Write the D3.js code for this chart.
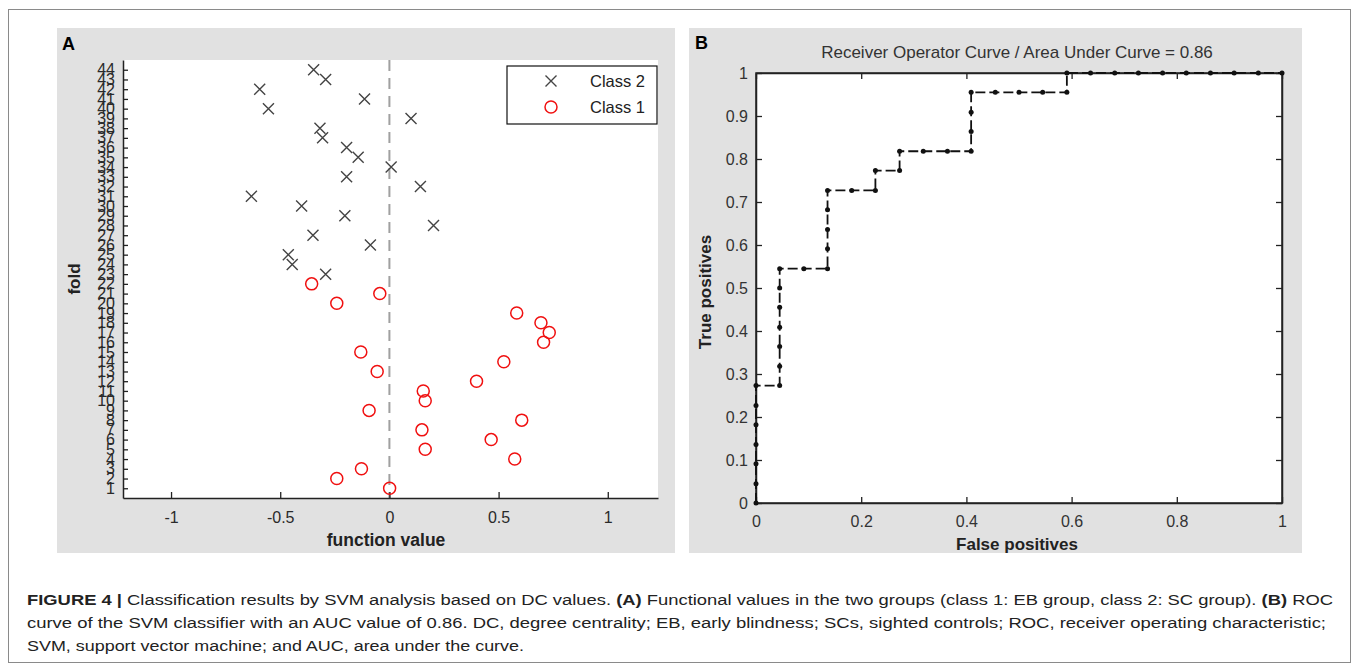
<!DOCTYPE html>
<html>
<head>
<meta charset="utf-8">
<script src="https://cdn.jsdelivr.net/npm/d3@7"></script>
<style>
  body { margin: 0; background: #fff; }
  svg { display: block; font-family: "Liberation Sans", Arial, sans-serif; }
</style>
</head>
<body>
<div id="chart"></div>
<script>
// panel A: SVM function value per fold
var class2Fold = [44, 43, 42, 41, 40, 39, 38, 37, 36, 35, 34, 33, 32, 31, 30, 29, 28, 27, 26, 25, 24, 23];
var class2Value = [-0.347, -0.292, -0.594, -0.114, -0.554, 0.099, -0.318, -0.306, -0.196, -0.143, 0.008,
                   -0.196, 0.142, -0.632, -0.402, -0.204, 0.202, -0.350, -0.087, -0.463, -0.445, -0.292];
var class1Fold = [22, 21, 20, 19, 18, 17, 16, 15, 14, 13, 12, 11, 10, 9, 8, 7, 6, 5, 4, 3, 2, 1];
var class1Value = [-0.356, -0.044, -0.241, 0.583, 0.694, 0.732, 0.706, -0.131, 0.524, -0.056, 0.399,
                   0.155, 0.164, -0.093, 0.606, 0.149, 0.466, 0.164, 0.574, -0.128, -0.241, 0.001];
var foldTicks = d3.range(1, 45);
var funcTicks = [-1, -0.5, 0, 0.5, 1];

// panel B: ROC curve
var rocFpr = [0, 0, 0, 0, 0, 0, 0, 0.045, 0.045, 0.045, 0.045, 0.045, 0.045, 0.045, 0.091, 0.136, 0.136,
              0.136, 0.136, 0.136, 0.182, 0.227, 0.227, 0.273, 0.273, 0.318, 0.364, 0.409, 0.409, 0.409,
              0.409, 0.455, 0.5, 0.545, 0.591, 0.591, 0.636, 0.682, 0.727, 0.773, 0.818, 0.864, 0.909, 0.955, 1];
var rocTpr = [0, 0.045, 0.091, 0.136, 0.182, 0.227, 0.273, 0.273, 0.318, 0.364, 0.409, 0.455, 0.5, 0.545,
              0.545, 0.545, 0.591, 0.636, 0.682, 0.727, 0.727, 0.727, 0.773, 0.773, 0.818, 0.818, 0.818,
              0.818, 0.864, 0.909, 0.955, 0.955, 0.955, 0.955, 0.955, 1, 1, 1, 1, 1, 1, 1, 1, 1, 1];
var rocTicks = [0, 0.2, 0.4, 0.6, 0.8, 1];
var tprTicks = [0, 0.1, 0.2, 0.3, 0.4, 0.5, 0.6, 0.7, 0.8, 0.9, 1];

var svg = d3.select("#chart").append("svg").attr("width", 1358).attr("height", 669);

svg.append("rect").attr("x", 8.5).attr("y", 9.5).attr("width", 1342).attr("height", 653)
  .attr("fill", "#fff").attr("stroke", "#8a8a8a");

// gray figure backgrounds
svg.append("rect").attr("x", 57).attr("y", 28).attr("width", 618).attr("height", 525).attr("fill", "#e1e1e1");
svg.append("rect").attr("x", 689).attr("y", 28).attr("width", 613).attr("height", 525).attr("fill", "#e1e1e1");

svg.append("text").attr("x", 62).attr("y", 50).attr("font-size", 18).attr("font-weight", "bold").text("A");
svg.append("text").attr("x", 695).attr("y", 49).attr("font-size", 18).attr("font-weight", "bold").text("B");

// ---------- panel A ----------
var xA = d3.scaleLinear().domain([-1.22, 1.23]).range([123, 658]);
var yA = d3.scaleLinear().domain([0, 45]).range([498, 60]);

var gA = svg.append("g");
gA.append("rect").attr("x", 123).attr("y", 60).attr("width", 535).attr("height", 438).attr("fill", "#fff");

gA.append("line")
  .attr("x1", xA(0)).attr("x2", xA(0)).attr("y1", yA(45)).attr("y2", yA(0))
  .attr("stroke", "#a0a0a0").attr("stroke-width", 2).attr("stroke-dasharray", "11,7");

var axA_y = gA.append("g").attr("transform", "translate(123,0)")
  .call(d3.axisLeft(yA).tickValues(foldTicks).tickSize(-5).tickSizeOuter(0).tickPadding(8));
var axA_x = gA.append("g").attr("transform", "translate(0,498)")
  .call(d3.axisBottom(xA).tickValues(funcTicks).tickSize(-6).tickSizeOuter(0).tickPadding(14)
    .tickFormat(function(d) { return String(d); }));
[axA_y, axA_x].forEach(function(ax) {
  ax.select(".domain").attr("stroke", "#222").attr("stroke-width", 1.5);
  ax.selectAll(".tick line").attr("stroke", "#222").attr("stroke-width", 1.3);
  ax.selectAll("text").attr("font-size", 16).attr("fill", "#2a2a2a")
    .attr("font-family", "Liberation Sans, Arial, sans-serif");
});

function crossPath(cx, cy, s) {
  return "M" + (cx - s) + "," + (cy - s) + "L" + (cx + s) + "," + (cy + s) +
         "M" + (cx - s) + "," + (cy + s) + "L" + (cx + s) + "," + (cy - s);
}

gA.selectAll(".c2").data(class2Fold).enter().append("path")
  .attr("d", function(d, i) { return crossPath(xA(class2Value[i]), yA(d), 5.5); })
  .attr("stroke", "#444").attr("stroke-width", 1.4).attr("fill", "none");

gA.selectAll(".c1").data(class1Fold).enter().append("circle")
  .attr("cx", function(d, i) { return xA(class1Value[i]); })
  .attr("cy", function(d) { return yA(d); })
  .attr("r", 6).attr("fill", "none").attr("stroke", "#f01010").attr("stroke-width", 1.5);

// legend
var leg = gA.append("g");
leg.append("rect").attr("x", 507).attr("y", 66).attr("width", 150).attr("height", 58)
  .attr("fill", "#fff").attr("stroke", "#111").attr("stroke-width", 1.2);
leg.append("path").attr("d", crossPath(551, 81, 5.5)).attr("stroke", "#444").attr("stroke-width", 1.4);
leg.append("circle").attr("cx", 551).attr("cy", 107).attr("r", 6).attr("fill", "none")
  .attr("stroke", "#f01010").attr("stroke-width", 1.5);
leg.append("text").attr("x", 590).attr("y", 87).attr("font-size", 16.5).attr("fill", "#222").text("Class 2");
leg.append("text").attr("x", 590).attr("y", 113).attr("font-size", 16.5).attr("fill", "#222").text("Class 1");

gA.append("text").attr("transform", "translate(80,279) rotate(-90)").attr("text-anchor", "middle")
  .attr("font-size", 17).attr("font-weight", "bold").attr("fill", "#222").text("fold");
gA.append("text").attr("x", 386).attr("y", 546).attr("text-anchor", "middle")
  .attr("font-size", 17.5).attr("font-weight", "bold").attr("fill", "#222").text("function value");

// ---------- panel B ----------
var xB = d3.scaleLinear().domain([0, 1]).range([756, 1282]);
var yB = d3.scaleLinear().domain([0, 1]).range([503, 73]);

var gB = svg.append("g");
gB.append("rect").attr("x", 756).attr("y", 73).attr("width", 526).attr("height", 430)
  .attr("fill", "#fff").attr("stroke", "#222").attr("stroke-width", 1.5);

var fmt = function(d) { return String(d); };
var axB = [
  gB.append("g").attr("transform", "translate(0,503)")
    .call(d3.axisBottom(xB).tickValues(rocTicks).tickSize(-6).tickSizeOuter(0).tickPadding(13).tickFormat(fmt)),
  gB.append("g").attr("transform", "translate(756,0)")
    .call(d3.axisLeft(yB).tickValues(tprTicks).tickSize(-6).tickSizeOuter(0).tickPadding(8).tickFormat(fmt)),
  gB.append("g").attr("transform", "translate(0,73)")
    .call(d3.axisTop(xB).tickValues(rocTicks).tickSize(-6).tickSizeOuter(0).tickFormat("")),
  gB.append("g").attr("transform", "translate(1282,0)")
    .call(d3.axisRight(yB).tickValues(tprTicks).tickSize(-6).tickSizeOuter(0).tickFormat(""))
];
axB.forEach(function(ax) {
  ax.select(".domain").attr("stroke", "#222").attr("stroke-width", 1.5);
  ax.selectAll(".tick line").attr("stroke", "#222").attr("stroke-width", 1.3);
  ax.selectAll("text").attr("font-size", 16).attr("fill", "#333")
    .attr("font-family", "Liberation Sans, Arial, sans-serif");
});

var rocLine = d3.line()
  .x(function(d, i) { return xB(rocFpr[i]); })
  .y(function(d, i) { return yB(rocTpr[i]); });

gB.append("path").datum(rocFpr).attr("d", rocLine)
  .attr("fill", "none").attr("stroke", "#111").attr("stroke-width", 1.8).attr("stroke-dasharray", "10,4");

gB.selectAll(".rocpt").data(rocFpr).enter().append("circle")
  .attr("cx", function(d) { return xB(d); })
  .attr("cy", function(d, i) { return yB(rocTpr[i]); })
  .attr("r", 2.5).attr("fill", "#111");

gB.append("text").attr("x", 1017).attr("y", 58).attr("text-anchor", "middle")
  .attr("font-size", 17).attr("fill", "#333")
  .text("Receiver Operator Curve / Area Under Curve = 0.86");
gB.append("text").attr("transform", "translate(711,292) rotate(-90)").attr("text-anchor", "middle")
  .attr("font-size", 17).attr("font-weight", "bold").attr("fill", "#222").text("True positives");
gB.append("text").attr("x", 1017).attr("y", 550).attr("text-anchor", "middle")
  .attr("font-size", 17).attr("font-weight", "bold").attr("fill", "#222").text("False positives");

// ---------- caption ----------
var captionLines = [
  [["FIGURE 4 | ", true], ["Classification results by SVM analysis based on DC values. ", false], ["(A)", true],
   [" Functional values in the two groups (class 1: EB group, class 2: SC group). ", false], ["(B)", true], [" ROC", false]],
  [["curve of the SVM classifier with an AUC value of 0.86. DC, degree centrality; EB, early blindness; SCs, sighted controls; ROC, receiver operating characteristic;", false]],
  [["SVM, support vector machine; and AUC, area under the curve.", false]]
];
var captionWidth = [1306, 1299, 497];
var captionY = [605, 628, 651];

captionLines.forEach(function(parts, li) {
  var t = svg.append("text").attr("x", 27).attr("y", captionY[li])
    .attr("font-family", "Liberation Sans Narrow, Liberation Sans, Arial, sans-serif")
    .attr("font-size", 15.5).attr("fill", "#222")
    .attr("textLength", captionWidth[li]).attr("lengthAdjust", "spacingAndGlyphs");
  parts.forEach(function(p) {
    t.append("tspan").attr("font-weight", p[1] ? "bold" : "normal").text(p[0]);
  });
});
</script>
</body>
</html>
